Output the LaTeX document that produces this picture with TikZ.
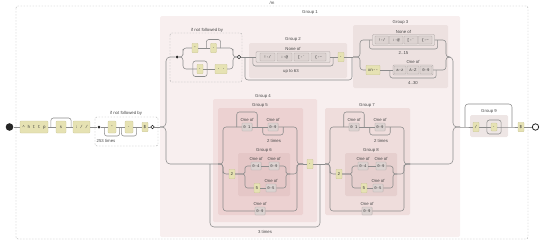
\documentclass[tikz,border=0pt]{standalone}
\usepackage{fontspec}
\setmainfont{Liberation Sans}
\setmonofont{Liberation Mono}
\usepackage{xcolor}
\usepackage{tikz}
\usetikzlibrary{positioning,calc}

\definecolor{wirec}{HTML}{8C8C8C}
\definecolor{litc}{HTML}{E6E2B3}
\definecolor{litd}{HTML}{CBC79A}
\definecolor{chrc}{HTML}{DCD3D1}
\definecolor{chrd}{HTML}{B4ABA9}
\definecolor{setc}{HTML}{E6DEDC}
\definecolor{setd}{HTML}{A9A1A0}
\definecolor{txtc}{HTML}{363636}
\definecolor{labc}{HTML}{474747}
\definecolor{lookc}{HTML}{A8A8A8}
\definecolor{grpone}{HTML}{F8EFEF}
\definecolor{grptwo}{HTML}{EDE1E0}
\definecolor{grpfour}{HTML}{F2E0E0}
\definecolor{grpfive}{HTML}{ECD1D1}
\definecolor{grpsix}{HTML}{E5C7C7}
\definecolor{grpseven}{HTML}{EFDDDC}
\definecolor{grpeight}{HTML}{E6CFCE}
\definecolor{grpnine}{HTML}{EEE6E5}

% bow over or under a node: node, overhang, y of the bow
\newcommand{\bypass}[3]{%
  \coordinate (bow) at (0,#3);
  \draw[wire, rounded corners=2.5pt] ($(#1.west)+(-#2,0)$) |- (#1.center |- bow) -| ($(#1.east)+(#2,0)$);}

\begin{document}
\begin{tikzpicture}[x=1pt, y=-1pt,
    font=\fontsize{4.3}{5}\selectfont,
    wire/.style={draw=wirec, line width=0.55pt},
    lit/.style={fill=litc, draw=litd, line width=0.3pt, rounded corners=0.8pt,
                font=\ttfamily\fontsize{4.3}{5}\selectfont, text=txtc,
                inner xsep=2pt, inner ysep=0pt, minimum width=8pt, minimum height=12pt},
    litsm/.style={lit, minimum width=6pt, minimum height=9.5pt, inner xsep=1.5pt},
    chr/.style={fill=chrc, draw=chrd, line width=0.3pt, rounded corners=0.6pt,
                font=\ttfamily\fontsize{4}{4.5}\selectfont, text=txtc,
                inner xsep=1.5pt, inner ysep=0pt, minimum width=10pt, minimum height=8pt},
    setbox/.style={fill=setc, draw=setd, line width=0.35pt, rounded corners=1pt, inner sep=0pt},
    lbl/.style={text=labc, inner sep=0pt},
    grpbox/.style={rounded corners=1.5pt},
    lookbox/.style={draw=lookc, dash pattern=on 1.6pt off 1.4pt, line width=0.45pt,
                    rounded corners=2pt},
    dotnode/.style={circle, fill=black!85, inner sep=0pt},
    endnode/.style={circle, draw=black!85, fill=white, inner sep=0pt},
    ]
\useasboundingbox (0,0) rectangle (540,241);

% group shades
\fill[grpone, grpbox] (160,16) rectangle (460,237);
\fill[grptwo, grpbox] (249,43) rectangle (347,78);
\fill[grptwo, grpbox] (353,25) rectangle (448,88);
\fill[grpfour, grpbox] (213,99) rectangle (317,222);
\fill[grpfive, grpbox] (218,108) rectangle (303,215);
\fill[grpsix, grpbox] (238,153) rectangle (290,196);
\fill[grpseven, grpbox] (325,108) rectangle (410,215);
\fill[grpeight, grpbox] (345,153) rectangle (397,196);
\fill[grpnine, grpbox] (470,115) rectangle (508,137);

\draw[lookbox] (16,6) rectangle (528,239);
\draw[lookbox] (95,117) rectangle (158,146);
\draw[lookbox] (170,33) rectangle (242,82);

\node[lbl] (flags) at (272,2.8) {/m};
\node[lbl] (g1l) at (310,12.5) {Group 1};
\node[lbl] (g2l) at (293,39.5) {Group 2};
\node[lbl] (g3l) at (400.5,22) {Group 3};
\node[lbl] (g4l) at (263,96) {Group 4};
\node[lbl] (g5l) at (260,105) {Group 5};
\node[lbl] (g6l) at (264,150) {Group 6};
\node[lbl] (g7l) at (367,105) {Group 7};
\node[lbl] (g8l) at (371,150) {Group 8};
\node[lbl] (g9l) at (489,111) {Group 9};
\node[lbl] (la1l) at (126,113.5) {if not followed by};
\node[lbl] (la1rep) at (106,141) {253 times};
\node[lbl] (la2l) at (207,30) {if not followed by};

% scheme and first lookahead
\node[dotnode, minimum size=7.6pt] (start) at (9.5,127) {};
\node[lit, minimum width=28pt] (http) at (34,127) {\textasciicircum{} h t t p};
\node[lit, minimum width=10pt] (s) at (61,127) {s};
\node[lit] (colon) at (81.5,127) {: / /};
\node[dotnode, minimum size=3pt] (dot1) at (99,127) {};
\node[lit] (dash1) at (112,127) {-};
\node[lit] (anyA) at (129,127) {.};
\node[litsm] (dollar1) at (145,127) {\$};
\node[endnode, line width=0.5pt, minimum size=3.4pt] (circ1) at (152.5,127) {};
\coordinate (g1in) at (160,127);
\coordinate (g1out) at (460,127);

% second lookahead
\node[dotnode, minimum size=3pt] (dot2) at (177,57) {};
\node[litsm] (la2a) at (195,48) {-};
\node[litsm] (la2b) at (213.5,48) {.};
\node[litsm] (la2c) at (200,69) {.};
\node[litsm, minimum width=12pt] (la2d) at (221,69) {. .};
\node[endnode, line width=0.5pt, minimum size=3.4pt] (circ2) at (239,57) {};

% Group 2
\node[setbox, minimum width=74pt, minimum height=11pt] (g2set) at (293,57) {};
\node[chr, minimum width=15pt] (g2ca) at (267.5,57) {!-/};
\node[chr, minimum width=15pt] (g2cb) at (284.5,57) {:-@};
\node[chr, minimum width=15pt] (g2cc) at (301.5,57) {[-\textasciigrave};
\node[chr, minimum width=15pt] (g2cd) at (318.5,57) {\{-\textasciitilde};
\node[lbl, above=0.8pt of g2set] (g2setl) {None of};
\node[litsm] (g2dot) at (341,57) {.};
\node[lbl] (g2rep) at (291,71) {up to 63};
\coordinate (g2lpin) at (245,57);
\coordinate (g2lpout) at (352,57);
\coordinate (g3in) at (353,57);
\coordinate (g3out) at (448,57);

% Group 3
\node[setbox, minimum width=62pt, minimum height=11pt] (g3set1) at (403.5,40) {};
\node[chr, minimum width=13.5pt] (g3ca) at (381.75,40) {!-/};
\node[chr, minimum width=13.5pt] (g3cb) at (396.25,40) {:-@};
\node[chr, minimum width=13.5pt] (g3cc) at (410.75,40) {[-\textasciigrave};
\node[chr, minimum width=13.5pt] (g3cd) at (425.25,40) {\{-\textasciitilde};
\node[lbl, above=0.8pt of g3set1] (g3set1l) {None of};
\node[lbl] (g3rep1) at (403.5,53) {2..15};
\node[litsm, minimum width=14pt] (xn) at (373,70) {xn-{}-};
\node[setbox, minimum width=40pt, minimum height=10pt] (g3set2) at (413,70) {};
\node[chr, minimum width=12pt] (g3ce) at (400,70) {a-z};
\node[chr, minimum width=12pt] (g3cf) at (413,70) {A-Z};
\node[chr, minimum width=12pt] (g3cg) at (426,70) {0-9};
\node[lbl, above=0.8pt of g3set2] (g3set2l) {One of};
\node[lbl] (g3rep2) at (413,83) {4..30};

% Group 4 / 5 / 6
\coordinate (g5in) at (218,164);
\coordinate (g5out) at (303,164);
\coordinate (g6out) at (290,174);
\coordinate (g4lpin) at (210,164);
\coordinate (g4lpout) at (320,164);
\node[chr] (c01a) at (247,127) {0 1};
\node[lbl, above=1pt of c01a] (c01al) {One of};
\node[chr] (c09a) at (273,127) {0-9};
\node[lbl, above=1pt of c09a] (c09al) {One of};
\node[lbl] (rep5) at (274,141) {2 times};
\node[litsm] (two5) at (232,174) {2};
\node[chr] (c04a) at (256,166) {0-4};
\node[lbl, above=1pt of c04a] (c04al) {One of};
\node[chr] (c09b) at (274,166) {0-9};
\node[lbl, above=1pt of c09b] (c09bl) {One of};
\node[litsm] (five5) at (257,188) {5};
\node[chr] (c05a) at (271,188) {0-5};
\node[lbl, above=1pt of c05a] (c05al) {One of};
\node[chr] (c09c) at (260,211) {0-9};
\node[lbl, above=1pt of c09c] (c09cl) {One of};
\node[litsm] (dot4) at (310,164) {.};
\node[lbl] (rep4) at (265,232) {3 times};

% Group 7 / 8
\coordinate (g7in) at (325,164);
\coordinate (g7out) at (410,164);
\coordinate (g8out) at (397,174);
\node[chr] (c01b) at (354,127) {0 1};
\node[lbl, above=1pt of c01b] (c01bl) {One of};
\node[chr] (c09d) at (380,127) {0-9};
\node[lbl, above=1pt of c09d] (c09dl) {One of};
\node[lbl] (rep7) at (381,141) {2 times};
\node[litsm] (two7) at (339,174) {2};
\node[chr] (c04b) at (363,166) {0-4};
\node[lbl, above=1pt of c04b] (c04bl) {One of};
\node[chr] (c09e) at (381,166) {0-9};
\node[lbl, above=1pt of c09e] (c09el) {One of};
\node[litsm] (five7) at (364,188) {5};
\node[chr] (c05b) at (378,188) {0-5};
\node[lbl, above=1pt of c05b] (c05bl) {One of};
\node[chr] (c09f) at (367,211) {0-9};
\node[lbl, above=1pt of c09f] (c09fl) {One of};

% Group 9 and end
\coordinate (g9in) at (465,127);
\coordinate (g9out) at (512,127);
\node[litsm] (slash9) at (476,127) {/};
\node[litsm, minimum height=8pt] (any9) at (494,127) {.};
\node[litsm] (dollar9) at (521,127) {\$};
\node[endnode, line width=0.8pt, minimum size=6.4pt] (finish) at (535.5,127) {};

% wires
\draw[wire] (start) -- (http) -- (s) -- (colon) -- (dot1) -- (dash1) -- (anyA) -- (dollar1) -- (circ1) -- (g1in);
\bypass{s}{5}{118}
\bypass{dash1}{3.5}{136}
\bypass{anyA}{3.5}{136}

\draw[wire, rounded corners=4pt] (g1in) -| (166,90) |- (dot2);
\draw[wire, rounded corners=4pt] (g1in) -| (166,140) |- (g5in);

\draw[wire, rounded corners=3pt] (dot2) -| (183,52) |- (la2a);
\draw[wire] (la2a) -- (la2b);
\draw[wire, rounded corners=3pt] (la2b) -| (233,52) |- (circ2);
\bypass{la2b}{4}{39.5}
\draw[wire, rounded corners=3pt] (dot2) -| (183,63) |- (la2c);
\draw[wire] (la2c) -- (la2d);
\draw[wire, rounded corners=3pt] (la2d) -| (233,63) |- (circ2);
\bypass{la2c}{4}{61}
\bypass{la2c}{4}{76.5}

\draw[wire] (circ2) -- (g2set);
\draw[wire] (g2set) -- (g2dot) -- (g3in);
\bypass{g2set}{3}{66}
\draw[wire, rounded corners=3pt] (g2lpin) |- (300,80) -| (g2lpout);

\draw[wire, rounded corners=3pt] (g3in) -| (360,50) |- (g3set1);
\draw[wire, rounded corners=3pt] (g3set1) -| (446,50) |- (g3out);
\bypass{g3set1}{3}{49}
\draw[wire, rounded corners=3pt] (g3in) -| (360,63) |- (xn);
\draw[wire] (xn) -- (g3set2);
\draw[wire, rounded corners=3pt] (g3set2) -| (446,63) |- (g3out);
\bypass{g3set2}{3}{78}
\draw[wire, rounded corners=4pt] (g3out) -| (453,90) |- (g1out);

\draw[wire, rounded corners=3pt] (g5in) -| (223,150) |- (c01a);
\draw[wire] (c01a) -- (c09a);
\bypass{c01a}{5}{112}
\bypass{c09a}{5}{135}
\draw[wire, rounded corners=3pt] (c09a) -| (297,150) |- (g5out);
\draw[wire, rounded corners=3pt] (g5in) -| (223,170) |- (two5);
\draw[wire, rounded corners=2.5pt] (two5) -| (245,170) |- (c04a);
\draw[wire] (c04a) -- (c09b);
\draw[wire, rounded corners=2.5pt] (c09b) -| (286,170) |- (g6out);
\draw[wire, rounded corners=2.5pt] (two5) -| (245,180) |- (five5);
\draw[wire] (five5) -- (c05a);
\draw[wire, rounded corners=2.5pt] (c05a) -| (286,180) |- (g6out);
\draw[wire, rounded corners=3pt] (g6out) -| (297,168) |- (g5out);
\draw[wire, rounded corners=3pt] (g5in) -| (223,190) |- (c09c);
\draw[wire, rounded corners=3pt] (c09c) -| (297,190) |- (g5out);
\draw[wire] (g5out) -- (dot4) -- (g7in);
\draw[wire, rounded corners=4pt] (g4lpout) |- (265,227) -| (g4lpin);

\draw[wire, rounded corners=3pt] (g7in) -| (330,150) |- (c01b);
\draw[wire] (c01b) -- (c09d);
\bypass{c01b}{5}{112}
\bypass{c09d}{5}{135}
\draw[wire, rounded corners=3pt] (c09d) -| (404,150) |- (g7out);
\draw[wire, rounded corners=3pt] (g7in) -| (330,170) |- (two7);
\draw[wire, rounded corners=2.5pt] (two7) -| (352,170) |- (c04b);
\draw[wire] (c04b) -- (c09e);
\draw[wire, rounded corners=2.5pt] (c09e) -| (393,170) |- (g8out);
\draw[wire, rounded corners=2.5pt] (two7) -| (352,180) |- (five7);
\draw[wire] (five7) -- (c05b);
\draw[wire, rounded corners=2.5pt] (c05b) -| (393,180) |- (g8out);
\draw[wire, rounded corners=3pt] (g8out) -| (404,168) |- (g7out);
\draw[wire, rounded corners=3pt] (g7in) -| (330,190) |- (c09f);
\draw[wire, rounded corners=3pt] (c09f) -| (404,190) |- (g7out);
\draw[wire, rounded corners=4pt] (g7out) -| (453,145) |- (g1out);

\draw[wire] (g1out) -- (g9in) -- (slash9) -- (any9) -- (g9out) -- (dollar9) -- (finish);
\draw[wire, rounded corners=3pt] (g9in) |- (488,104) -| (g9out);
\bypass{any9}{4}{120}
\bypass{any9}{4}{134}
\end{tikzpicture}
\end{document}
